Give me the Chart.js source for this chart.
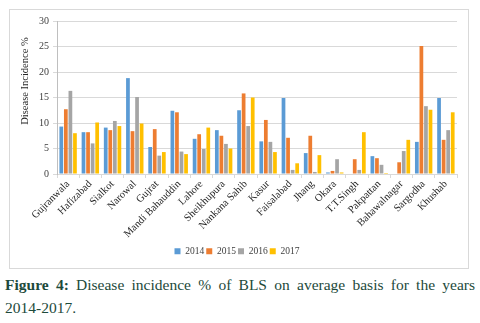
<!DOCTYPE html>
<html>
<head>
<meta charset="utf-8">
<script src="https://cdn.jsdelivr.net/npm/chart.js@4/dist/chart.umd.min.js"></script>
<style>
  body { margin: 0; background: #fff; width: 480px; height: 323px; overflow: hidden; position: relative; }
  #frame { position: absolute; left: 9px; top: 9px; width: 458px; height: 258px; border: 1px solid #d9d9d9; }
  #wrap { position: absolute; left: 0; top: 0; width: 480px; height: 268px; }
  #caption {
    position: absolute; left: 5px; top: 273px; width: 470px;
    font-family: "Liberation Serif", serif; font-size: 15.5px; line-height: 23px;
    color: #1d4a3b; text-align: justify; text-align-last: left;
  }
  #caption b { font-weight: bold; }
</style>
</head>
<body>
<div id="frame"></div>
<div id="wrap"><canvas id="Chart1" width="480" height="268"></canvas></div>
<div id="caption"><b>Figure 4:</b> Disease incidence % of BLS on average basis for the years <span style="white-space:nowrap">2014-2017.</span></div>
<script>
const districts = ['Gujranwala', 'Hafizabad', 'Sialkot', 'Narowal', 'Gujrat', 'Mandi Bahauddin', 'Lahore',
  'Sheikhupura', 'Nankana Sahib', 'Kasur', 'Faisalabad', 'Jhang', 'Okara', 'T.T.Singh', 'Pakpattan',
  'Bahawalnagar', 'Sargodha', 'Khushab']
const y2014 = [9.3, 8.2, 9.1, 18.8, 5.3, 12.4, 6.9, 8.6, 12.5, 6.4, 14.9, 4.1, 0.3, 0, 3.5, 0, 6.3, 14.9]
const y2015 = [12.7, 8.2, 8.6, 8.4, 8.8, 12.1, 7.8, 7.5, 15.8, 10.6, 7.1, 7.5, 0.6, 2.9, 3.1, 2.3, 25.1, 6.7]
const y2016 = [16.3, 6.0, 10.4, 15.1, 3.6, 4.4, 4.9, 5.9, 9.4, 6.3, 0.8, 0.4, 2.9, 0.8, 1.8, 4.5, 13.3, 8.6]
const y2017 = [8.0, 10.1, 9.4, 9.9, 4.3, 3.9, 9.1, 5.0, 15.0, 4.3, 2.1, 3.7, 0.3, 8.2, 0.2, 6.7, 12.6, 12.1]
const yTicks = [0, 5, 10, 15, 20, 25, 30]
const yTitle = 'Disease Incidence %'

const serif = '"Liberation Serif", "Times New Roman", serif'

const series = [
  { label: '2014', data: y2014, color: '#5b9bd5' },
  { label: '2015', data: y2015, color: '#ed7d31' },
  { label: '2016', data: y2016, color: '#a5a5a5' },
  { label: '2017', data: y2017, color: '#ffc000' }
]

// excel puts the axis title a bit above the middle, so draw it by hand
const yTitlePlugin = {
  id: 'yTitle',
  afterDraw(chart) {
    const c = chart.ctx
    c.save()
    c.translate(25, 81)
    c.rotate(-Math.PI / 2)
    c.font = `10.5px ${serif}`
    c.fillStyle = '#262626'
    c.textAlign = 'center'
    c.textBaseline = 'middle'
    c.fillText(yTitle, 0, 0)
    c.restore()
  }
}

const ctx = document.getElementById('Chart1')
new Chart(ctx, {
  type: 'bar',
  data: {
    labels: districts,
    datasets: series.map(s => ({
      label: s.label,
      data: s.data,
      backgroundColor: s.color,
      borderWidth: 0,
      categoryPercentage: 0.82,
      barPercentage: 0.82
    }))
  },
  options: {
    responsive: false,
    animation: false,
    layout: { padding: { left: 17, right: 23, top: 21, bottom: 2 } },
    plugins: {
      tooltip: { enabled: false },
      legend: {
        position: 'bottom',
        labels: {
          boxWidth: 6,
          boxHeight: 6,
          padding: 2,
          color: '#404040',
          font: { family: serif, size: 9.5 }
        }
      }
    },
    scales: {
      x: {
        afterFit: (scale) => { scale.height = 70.5 },
        grid: {
          offset: true,
          drawOnChartArea: false,
          tickLength: 4,
          color: '#d9d9d9'
        },
        border: { color: '#d9d9d9' },
        ticks: {
          minRotation: 45,
          maxRotation: 45,
          autoSkip: false,
          padding: 0,
          color: '#262626',
          font: { family: serif, size: 10.5 }
        }
      },
      y: {
        min: 0,
        max: 30,
        afterFit: (scale) => { scale.width = 40 },
        afterBuildTicks: (scale) => { scale.ticks = yTicks.map(v => ({ value: v })) },
        grid: { color: '#d9d9d9', tickLength: 4 },
        border: { color: '#bfbfbf' },
        ticks: {
          padding: 4,
          color: '#404040',
          font: { family: serif, size: 10 }
        }
      }
    }
  },
  plugins: [yTitlePlugin]
})
</script>
</body>
</html>
